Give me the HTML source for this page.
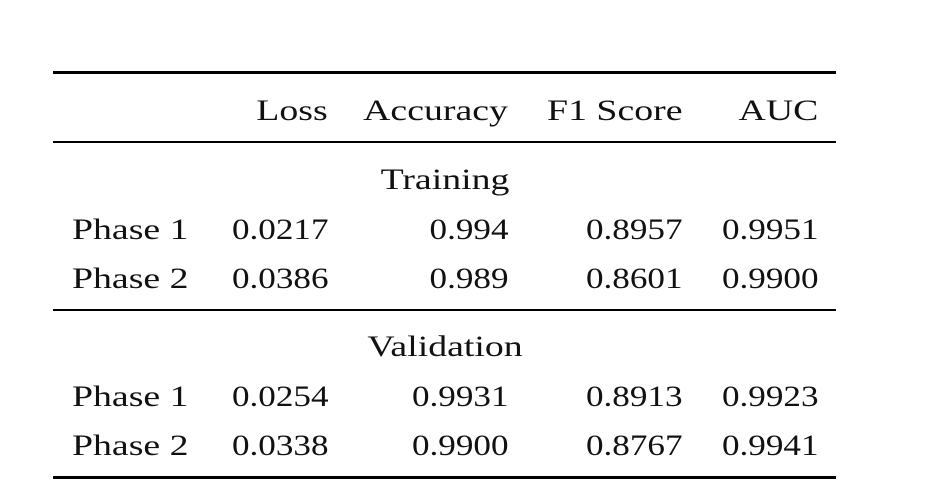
<!DOCTYPE html>
<html><head><meta charset="utf-8"><style>
body{margin:0;width:934px;height:488px;background:#fff;position:relative;overflow:hidden;font-family:"Liberation Serif",serif;color:#111}
.r{position:absolute;left:53px;width:783px;background:#000}
.t{position:absolute;font-size:30px;line-height:30px;white-space:nowrap;transform:scaleX(1.17)}
.w{transform:scaleX(1.26)}
.R{transform-origin:right center}
.L{transform-origin:left center}
.C{transform-origin:center center}
</style></head><body>
<div class="r" style="top:71px;height:3px"></div>
<div class="r" style="top:141px;height:1.5px"></div>
<div class="r" style="top:309px;height:1.5px"></div>
<div class="r" style="top:476px;height:3px"></div>

<div class="t w R" style="right:606px;top:96px">Loss</div>
<div class="t w R" style="right:426px;top:96px">Accuracy</div>
<div class="t w R" style="right:252px;top:96px">F1 Score</div>
<div class="t w R" style="right:116px;top:96px">AUC</div>

<div class="t w C" style="left:345px;width:200px;text-align:center;top:165px">Training</div>
<div class="t w L" style="left:72px;top:215px">Phase 1</div>
<div class="t R" style="right:606px;top:215px">0.0217</div>
<div class="t R" style="right:426px;top:215px">0.994</div>
<div class="t R" style="right:252px;top:215px">0.8957</div>
<div class="t R" style="right:116px;top:215px">0.9951</div>
<div class="t w L" style="left:72px;top:264px">Phase 2</div>
<div class="t R" style="right:606px;top:264px">0.0386</div>
<div class="t R" style="right:426px;top:264px">0.989</div>
<div class="t R" style="right:252px;top:264px">0.8601</div>
<div class="t R" style="right:116px;top:264px">0.9900</div>

<div class="t w C" style="left:345px;width:200px;text-align:center;top:332px">Validation</div>
<div class="t w L" style="left:72px;top:382px">Phase 1</div>
<div class="t R" style="right:606px;top:382px">0.0254</div>
<div class="t R" style="right:426px;top:382px">0.9931</div>
<div class="t R" style="right:252px;top:382px">0.8913</div>
<div class="t R" style="right:116px;top:382px">0.9923</div>
<div class="t w L" style="left:72px;top:431px">Phase 2</div>
<div class="t R" style="right:606px;top:431px">0.0338</div>
<div class="t R" style="right:426px;top:431px">0.9900</div>
<div class="t R" style="right:252px;top:431px">0.8767</div>
<div class="t R" style="right:116px;top:431px">0.9941</div>
</body></html>
